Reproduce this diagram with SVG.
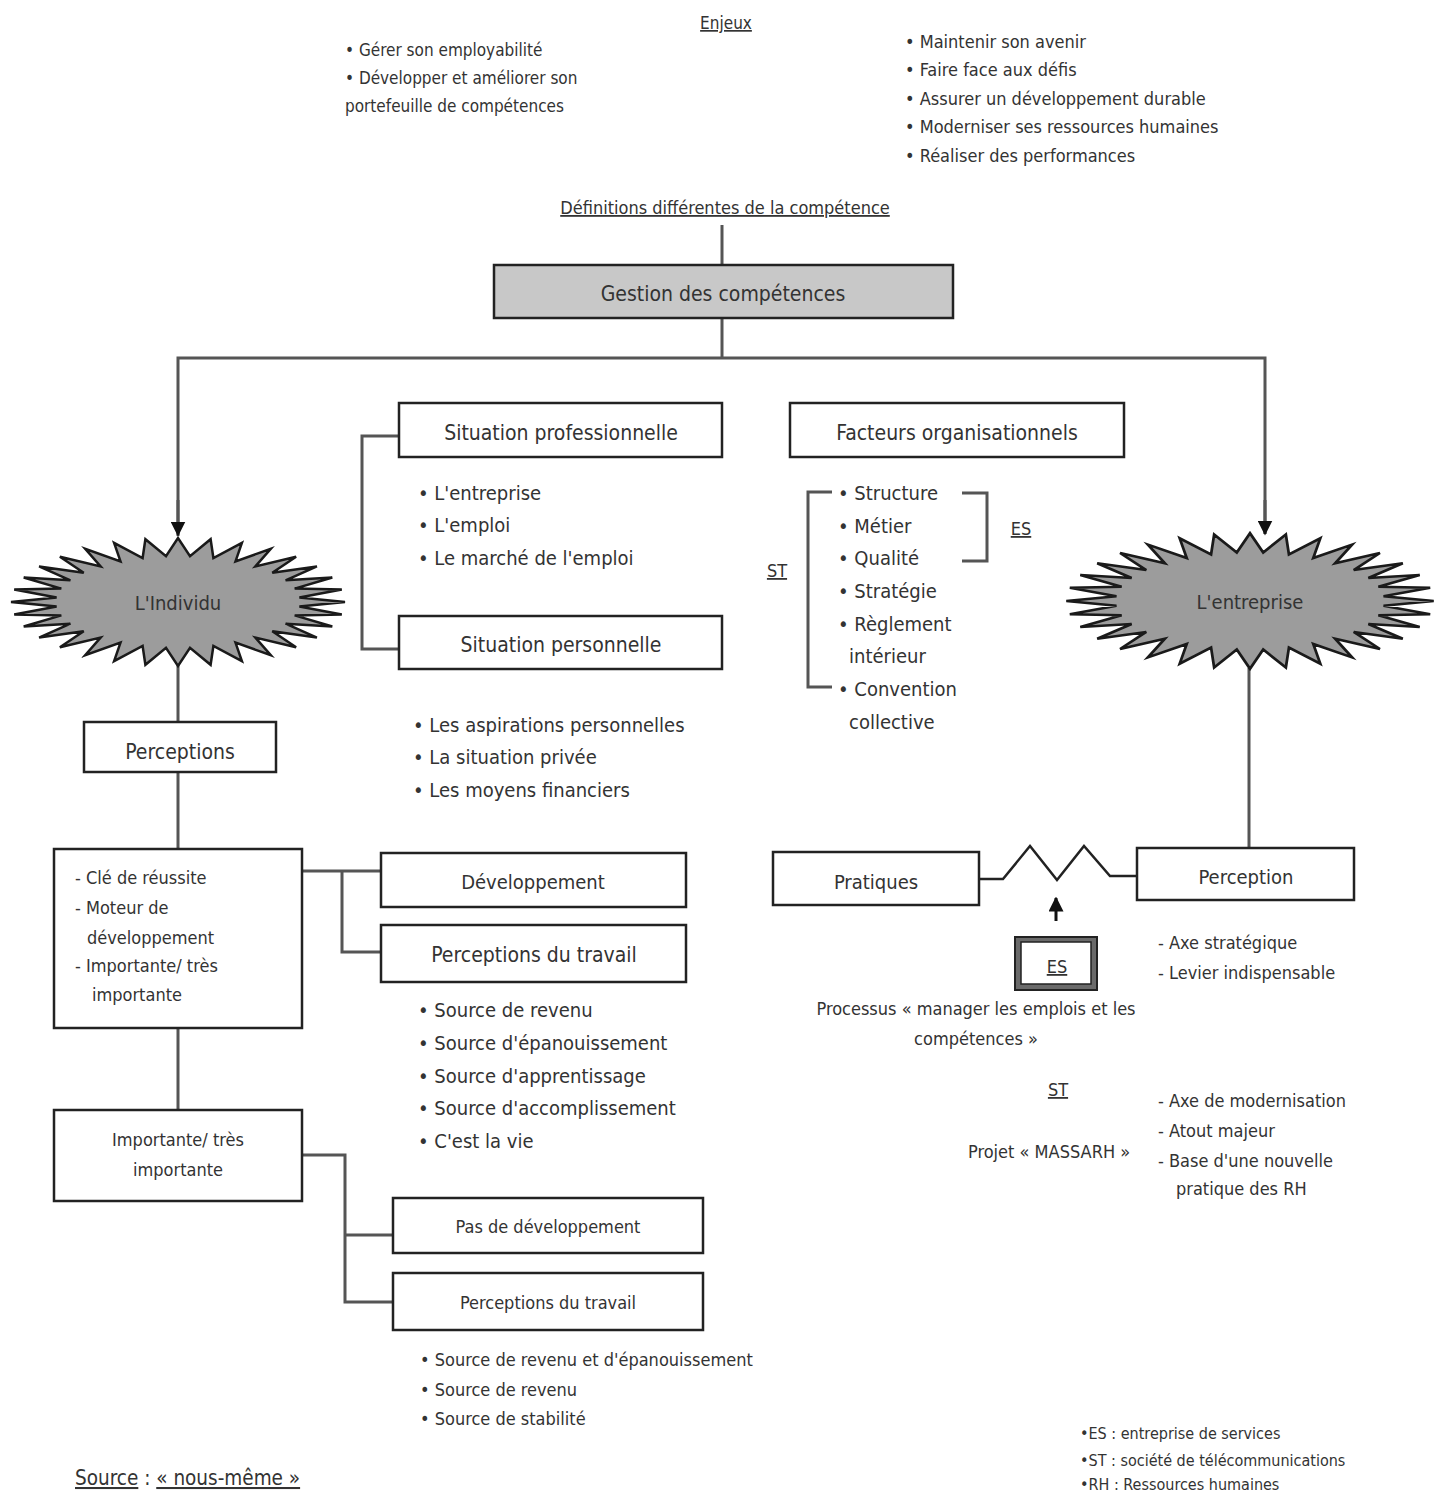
<svg xmlns="http://www.w3.org/2000/svg" width="1445" height="1493" viewBox="0 0 1445 1493">
<style>
text{font-family:"DejaVu Sans Condensed","Liberation Sans Narrow","DejaVu Sans",sans-serif;fill:#333}
.c{text-anchor:middle}
.u{text-decoration:underline}
.box{fill:#fff;stroke:#222;stroke-width:2.5}
.ln{fill:none;stroke:#555;stroke-width:3}
.star{fill:#9c9c9c;stroke:#1a1a1a;stroke-width:2.5;stroke-linejoin:miter;vector-effect:non-scaling-stroke}
.t21{font-size:21px}.t20{font-size:20px}.t19{font-size:19px}.t18{font-size:18px}.t17{font-size:17px}.t16{font-size:16px}
</style>
<defs>
<polygon id="starshape" points="167,0 121.4,4.5 163.8,12.5 116.7,13.4 154.3,24.5 107.6,21.7 138.9,35.6 94.3,29.2 118.1,45.3 77.4,35.6 92.8,53.2 57.5,40.6 63.9,59.1 35.4,44 32.6,62.8 12,45.8 0,64 -12,45.8 -32.6,62.8 -35.4,44 -63.9,59.1 -57.5,40.6 -92.8,53.2 -77.4,35.6 -118.1,45.3 -94.3,29.2 -138.9,35.6 -107.6,21.7 -154.3,24.5 -116.7,13.4 -163.8,12.5 -121.4,4.5 -167,0 -121.4,-4.5 -163.8,-12.5 -116.7,-13.4 -154.3,-24.5 -107.6,-21.7 -138.9,-35.6 -94.3,-29.2 -118.1,-45.3 -77.4,-35.6 -92.8,-53.2 -57.5,-40.6 -63.9,-59.1 -35.4,-44 -32.6,-62.8 -12,-45.8 0,-64 12,-45.8 32.6,-62.8 35.4,-44 63.9,-59.1 57.5,-40.6 92.8,-53.2 77.4,-35.6 118.1,-45.3 94.3,-29.2 138.9,-35.6 107.6,-21.7 154.3,-24.5 116.7,-13.4 163.8,-12.5 121.4,-4.5"/>
<marker id="arr" viewBox="0 0 10 10" refX="9" refY="5" markerWidth="5" markerHeight="5" orient="auto" markerUnits="strokeWidth"><path d="M0,0 L10,5 L0,10 Z" fill="#111"/></marker>
</defs>
<rect width="1445" height="1493" fill="#fff"/>

<g id="enjeux">
<text x="726" y="29" class="c u t17">Enjeux</text>
<text x="345" y="56" class="t17">• Gérer son employabilité</text>
<text x="345" y="84" class="t17">• Développer et améliorer son</text>
<text x="345" y="112" class="t17">portefeuille de compétences</text>
<text x="905" y="48" class="t18">• Maintenir son avenir</text>
<text x="905" y="76" class="t18">• Faire face aux défis</text>
<text x="905" y="105" class="t18">• Assurer un développement durable</text>
<text x="905" y="133" class="t18">• Moderniser ses ressources humaines</text>
<text x="905" y="162" class="t18">• Réaliser des performances</text>
</g>
<g id="definitions"><text x="725" y="214" class="c u t18">Définitions différentes de la compétence</text></g>

<g id="connectors">
<line class="ln" x1="722" y1="225" x2="722" y2="265"/>
<polyline class="ln" points="722,318 722,358"/>
<polyline class="ln" points="178,536 178,358 1265,358 1265,534"/>
<line x1="178" y1="500" x2="178" y2="535" stroke="#555" stroke-width="3" marker-end="url(#arr)"/>
<line x1="1265" y1="500" x2="1265" y2="534" stroke="#555" stroke-width="3" marker-end="url(#arr)"/>
<line class="ln" x1="178" y1="665" x2="178" y2="722"/>
<line class="ln" x1="178" y1="772" x2="178" y2="849"/>
<line class="ln" x1="178" y1="1028" x2="178" y2="1110"/>
<polyline class="ln" points="302,871 381,871"/>
<polyline class="ln" points="342,871 342,952 381,952"/>
<polyline class="ln" points="302,1155 345,1155 345,1302 393,1302"/>
<line class="ln" x1="345" y1="1235" x2="393" y2="1235"/>
<polyline class="ln" points="399,436 362,436 362,649 399,649"/>
<polyline class="ln" points="832,492 808,492 808,687 832,687"/>
<polyline class="ln" points="962,493 987,493 987,561 962,561"/>
<line class="ln" x1="1249" y1="668" x2="1249" y2="848"/>
<polyline fill="none" stroke="#222" stroke-width="2.5" points="979,879 1003,879 1030,846 1057,880 1084,846 1110,876 1137,876"/>
<line x1="1056" y1="921" x2="1056" y2="898" stroke="#111" stroke-width="3" marker-end="url(#arr)"/>
</g>

<g id="gestion">
<rect x="494" y="265" width="459" height="53" fill="#c8c8c8" stroke="#222" stroke-width="2.5"/>
<text x="723" y="301" class="c t21">Gestion des compétences</text>
</g>

<g id="individu">
<use href="#starshape" class="star" transform="translate(178,602)"/>
<text x="178" y="610" class="c t20">L'Individu</text>
</g>
<g id="entreprise">
<use href="#starshape" class="star" transform="translate(1250,601) scale(1.1,1.06)"/>
<text x="1250" y="609" class="c t20">L'entreprise</text>
</g>

<g id="sitpro">
<rect class="box" x="399" y="403" width="323" height="54"/>
<text x="561" y="440" class="c t21">Situation professionnelle</text>
</g>
<g id="sitpro-list">
<text x="418" y="500" class="t20">• L'entreprise</text>
<text x="418" y="532" class="t20">• L'emploi</text>
<text x="418" y="565" class="t20">• Le marché de l'emploi</text>
</g>
<g id="sitperso">
<rect class="box" x="399" y="616" width="323" height="53"/>
<text x="561" y="652" class="c t21">Situation personnelle</text>
</g>
<g id="sitperso-list">
<text x="413" y="732" class="t20">• Les aspirations personnelles</text>
<text x="413" y="764" class="t20">• La situation privée</text>
<text x="413" y="797" class="t20">• Les moyens financiers</text>
</g>

<g id="facteurs">
<rect class="box" x="790" y="403" width="334" height="54"/>
<text x="957" y="440" class="c t21">Facteurs organisationnels</text>
</g>
<g id="facteurs-list">
<text x="777" y="577" class="c u t18">ST</text>
<text x="1021" y="535" class="c u t18">ES</text>
<text x="838" y="500" class="t20">• Structure</text>
<text x="838" y="533" class="t20">• Métier</text>
<text x="838" y="565" class="t20">• Qualité</text>
<text x="838" y="598" class="t20">• Stratégie</text>
<text x="838" y="631" class="t20">• Règlement</text>
<text x="849" y="663" class="t20">intérieur</text>
<text x="838" y="696" class="t20">• Convention</text>
<text x="849" y="729" class="t20">collective</text>
</g>

<g id="perceptions">
<rect class="box" x="84" y="722" width="192" height="50"/>
<text x="180" y="759" class="c t21">Perceptions</text>
</g>
<g id="cle">
<rect class="box" x="54" y="849" width="248" height="179"/>
<text x="75" y="884" class="t18">- Clé de réussite</text>
<text x="75" y="914" class="t18">- Moteur de</text>
<text x="87" y="944" class="t18">développement</text>
<text x="75" y="972" class="t18">- Importante/ très</text>
<text x="92" y="1001" class="t18">importante</text>
</g>
<g id="developpement">
<rect class="box" x="381" y="853" width="305" height="54"/>
<text x="533" y="889" class="c t20">Développement</text>
</g>
<g id="percep-travail1">
<rect class="box" x="381" y="925" width="305" height="57"/>
<text x="534" y="962" class="c t21">Perceptions du travail</text>
</g>
<g id="travail1-list">
<text x="418" y="1017" class="t20">• Source de revenu</text>
<text x="418" y="1050" class="t20">• Source d'épanouissement</text>
<text x="418" y="1083" class="t20">• Source d'apprentissage</text>
<text x="418" y="1115" class="t20">• Source d'accomplissement</text>
<text x="418" y="1148" class="t20">• C'est la vie</text>
</g>

<g id="importante">
<rect class="box" x="54" y="1110" width="248" height="91"/>
<text x="178" y="1146" class="c t18">Importante/ très</text>
<text x="178" y="1176" class="c t18">importante</text>
</g>
<g id="pasdev">
<rect class="box" x="393" y="1198" width="310" height="55"/>
<text x="548" y="1233" class="c t18">Pas  de développement</text>
</g>
<g id="percep-travail2">
<rect class="box" x="393" y="1273" width="310" height="57"/>
<text x="548" y="1309" class="c t18">Perceptions du travail</text>
</g>
<g id="travail2-list">
<text x="420" y="1366" class="t18">• Source de revenu et d'épanouissement</text>
<text x="420" y="1396" class="t18">• Source de revenu</text>
<text x="420" y="1425" class="t18">• Source de stabilité</text>
</g>

<g id="pratiques">
<rect class="box" x="773" y="852" width="206" height="53"/>
<text x="876" y="889" class="c t20">Pratiques</text>
</g>
<g id="perception">
<rect class="box" x="1137" y="848" width="217" height="52"/>
<text x="1246" y="884" class="c t20">Perception</text>
</g>
<g id="es-box">
<rect x="1015" y="937" width="82" height="53" fill="#6a6a6a" stroke="#222" stroke-width="2"/>
<rect x="1021" y="942" width="70" height="42" fill="#fff" stroke="#222" stroke-width="1.5"/>
<text x="1057" y="973" class="c u t18">ES</text>
</g>
<g id="es-notes">
<text x="976" y="1015" class="c t18">Processus « manager les emplois et les</text>
<text x="976" y="1045" class="c t18">compétences »</text>
<text x="1158" y="949" class="t18">- Axe stratégique</text>
<text x="1158" y="979" class="t18">- Levier indispensable</text>
</g>
<g id="st-notes">
<text x="1058" y="1096" class="c u t18">ST</text>
<text x="968" y="1158" class="t18">Projet « MASSARH »</text>
<text x="1158" y="1107" class="t18">- Axe de modernisation</text>
<text x="1158" y="1137" class="t18">- Atout majeur</text>
<text x="1158" y="1167" class="t18">- Base d'une nouvelle</text>
<text x="1176" y="1195" class="t18">pratique des RH</text>
</g>

<g id="legend">
<text x="1080" y="1439" class="t16">•ES : entreprise de services</text>
<text x="1080" y="1466" class="t16">•ST : société de télécommunications</text>
<text x="1080" y="1490" class="t16">•RH : Ressources humaines</text>
</g>
<g id="source">
<text x="75" y="1485" style="font-size:20.5px"><tspan class="u">Source</tspan> : <tspan class="u">« nous-même »</tspan></text>
</g>
</svg>
